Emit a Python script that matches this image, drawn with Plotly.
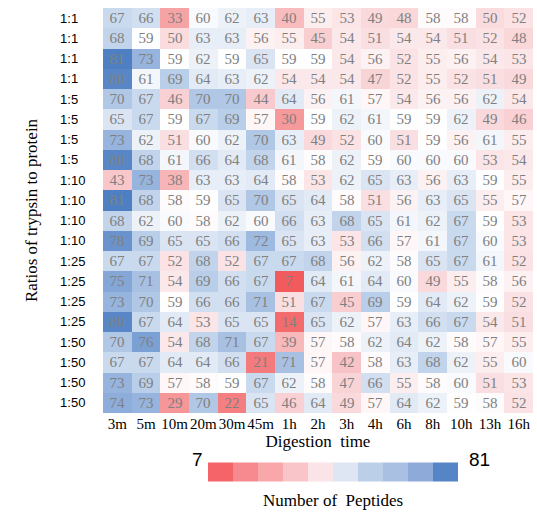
import plotly.graph_objects as go

times = ["3m", "5m", "10m", "20m", "30m", "45m", "1h", "2h", "3h", "4h", "6h", "8h", "10h", "13h", "16h"]
ratios = ["1:1"] * 4 + ["1:5"] * 4 + ["1:10"] * 4 + ["1:25"] * 4 + ["1:50"] * 4

peptides = [
    [67, 66, 33, 60, 62, 63, 40, 55, 53, 49, 48, 58, 58, 50, 52],
    [68, 59, 50, 63, 63, 56, 55, 45, 54, 51, 54, 54, 51, 52, 48],
    [81, 73, 59, 62, 59, 65, 59, 59, 54, 56, 52, 55, 56, 54, 53],
    [80, 61, 69, 64, 63, 62, 54, 54, 54, 47, 52, 55, 52, 51, 49],
    [70, 67, 46, 70, 70, 44, 64, 56, 61, 57, 54, 56, 56, 62, 54],
    [65, 67, 59, 67, 69, 57, 30, 59, 62, 61, 59, 59, 62, 49, 46],
    [73, 62, 51, 60, 62, 70, 63, 49, 52, 60, 51, 59, 56, 61, 55],
    [80, 68, 61, 66, 64, 68, 61, 58, 62, 59, 60, 60, 60, 53, 54],
    [43, 73, 38, 63, 63, 64, 58, 53, 62, 65, 63, 56, 63, 59, 55],
    [81, 68, 58, 59, 65, 70, 65, 64, 58, 51, 56, 63, 65, 55, 57],
    [68, 62, 60, 58, 62, 60, 66, 63, 68, 65, 61, 62, 67, 59, 53],
    [78, 69, 65, 65, 66, 72, 65, 63, 53, 66, 57, 61, 67, 60, 53],
    [67, 67, 52, 68, 52, 67, 67, 68, 56, 62, 58, 65, 67, 61, 52],
    [75, 71, 54, 69, 66, 67, 7, 64, 61, 64, 60, 49, 55, 58, 56],
    [73, 70, 59, 66, 66, 71, 51, 67, 45, 69, 59, 64, 62, 59, 52],
    [80, 67, 64, 53, 65, 65, 14, 65, 62, 57, 63, 66, 67, 54, 51],
    [70, 76, 54, 68, 71, 67, 39, 57, 58, 62, 64, 62, 58, 57, 55],
    [67, 67, 64, 64, 66, 21, 71, 57, 42, 58, 63, 68, 62, 55, 60],
    [73, 69, 57, 58, 59, 67, 62, 58, 47, 66, 55, 58, 60, 51, 53],
    [74, 73, 29, 70, 22, 65, 46, 64, 49, 57, 64, 62, 59, 58, 52],
]

vmin, vmax = 7, 81

# red -> white -> blue, white sitting near 59
cell_scale = [
    [0.0, "#f15b5d"],
    [0.19, "#f47b7d"],
    [0.35, "#f6a3a5"],
    [0.51, "#f9cdd0"],
    [0.635, "#fbe8ea"],
    [0.70, "#ffffff"],
    [0.77, "#e2eaf5"],
    [0.82, "#c5d6ec"],
    [0.89, "#97b5de"],
    [1.0, "#4f7fc3"],
]

bar_colors = ["#f56468", "#f68a8e", "#f8a7ab", "#f9c5c8", "#fbe4e7",
              "#dfe6f3", "#bccfe9", "#a9c0e3", "#8eaad8", "#5585c6"]
bar_scale = []
for i, c in enumerate(bar_colors):
    bar_scale.append([i / 10, c])
    bar_scale.append([(i + 1) / 10, c])

serif = "Liberation Serif"
sans = "Liberation Sans"

n_x, n_y = len(times), len(ratios)

fig = go.Figure()
fig.add_trace(go.Heatmap(
    z=peptides,
    x=list(range(n_x)),
    y=list(range(n_y)),
    zmin=vmin, zmax=vmax,
    colorscale=cell_scale,
    showscale=False,
    texttemplate="%{z}",
    textfont=dict(family=serif, size=15, color="#808080"),
    hoverinfo="skip",
))

# discrete colour key, carried by an invisible marker
fig.add_trace(go.Scatter(
    x=[0], y=[0], mode="markers",
    marker=dict(
        size=1, opacity=0,
        color=[5], cmin=0, cmax=10, colorscale=bar_scale, showscale=True,
        colorbar=dict(
            orientation="h", x=0.535, xanchor="center", y=-0.146, yanchor="middle",
            len=250, lenmode="pixels", thickness=19, outlinewidth=0,
            xpad=0, ypad=0, tickvals=[], ticks="",
        ),
    ),
    showlegend=False, hoverinfo="skip",
))

fig.add_annotation(text="Number of  Peptides", x=0.535, y=-0.188, xref="paper", yref="paper",
                   showarrow=False, yanchor="top",
                   font=dict(family=serif, size=17, color="black"))
fig.add_annotation(text=str(vmin), x=0.237, y=-0.146, xref="paper", yref="paper",
                   showarrow=False, xanchor="right",
                   font=dict(family=sans, size=19, color="black"))
fig.add_annotation(text=str(vmax), x=0.847, y=-0.146, xref="paper", yref="paper",
                   showarrow=False, xanchor="left",
                   font=dict(family=sans, size=19, color="black"))

fig.update_xaxes(
    range=[-0.5, n_x - 0.5],
    tickvals=list(range(n_x)), ticktext=times,
    tickfont=dict(family=serif, size=15, color="black"), tickangle=0,
    showgrid=False, zeroline=False, ticks="", automargin=False,
    title=dict(text="Digestion  time", font=dict(family=serif, size=17, color="black"), standoff=4),
)
fig.update_yaxes(
    range=[n_y - 0.5, -0.5],
    tickvals=list(range(n_y)), ticktext=[r + "  " if len(r) == 3 else r for r in ratios],
    tickfont=dict(family=sans, size=13, color="black"),
    showgrid=False, zeroline=False, automargin=False,
    ticks="outside", ticklen=14, tickcolor="rgba(0,0,0,0)",
    title=dict(text="Ratios of trypsin to protein", font=dict(family=serif, size=17, color="black"), standoff=18),
)

fig.update_layout(
    width=537, height=514,
    margin=dict(l=103, r=4, t=8, b=101, autoexpand=False),
    plot_bgcolor="white", paper_bgcolor="white",
)

# drop the page's default body margin so the figure sits at the window's corner
fig.write_html("out.html", config={"displayModeBar": False},
               post_script="document.body.style.margin='0';")
